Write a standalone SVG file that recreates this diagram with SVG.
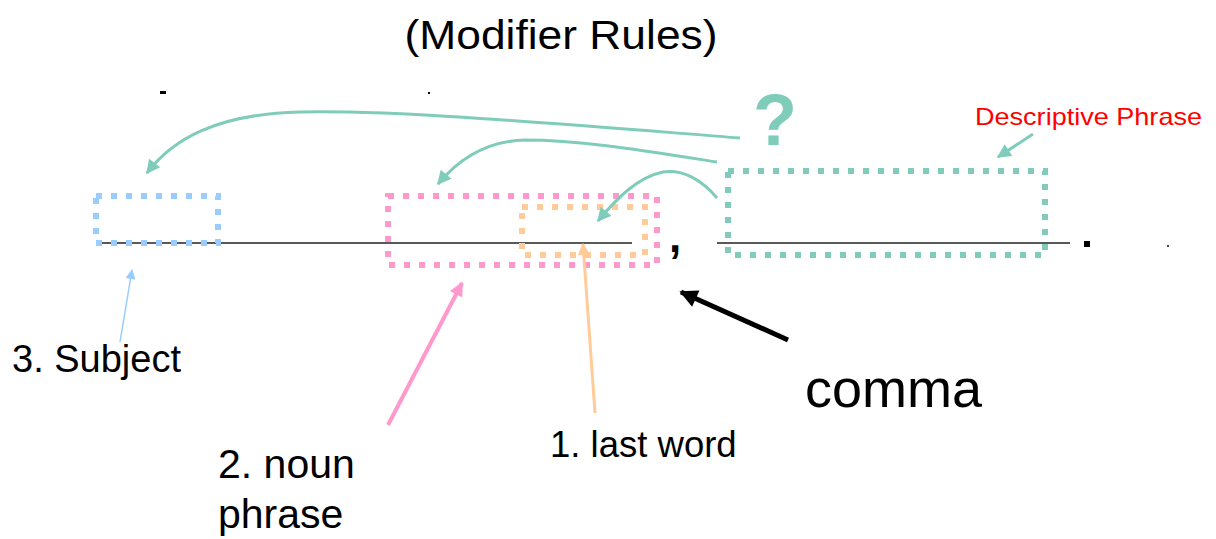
<svg xmlns="http://www.w3.org/2000/svg" width="1216" height="539" viewBox="0 0 1216 539">
<style>
text{font-family:"Liberation Sans",Arial,sans-serif;fill:#000}
.box{fill:none;stroke-width:6;stroke-dasharray:6 9}
.base{stroke:#222;stroke-width:1.6}
.teal{fill:none;stroke:#7FCCBB;stroke-width:3}
</style>
<defs>
<marker id="mTeal" viewBox="0 0 10 10" refX="9" refY="5" markerWidth="16" markerHeight="14" markerUnits="userSpaceOnUse" orient="auto"><path d="M0,0 L10,5 L0,10 z" fill="#7FCCBB"/></marker>
<marker id="mBlue" viewBox="0 0 10 10" refX="9" refY="5" markerWidth="12" markerHeight="10" markerUnits="userSpaceOnUse" orient="auto"><path d="M0,0 L10,5 L0,10 z" fill="#99CCFF"/></marker>
<marker id="mPink" viewBox="0 0 10 10" refX="9" refY="5" markerWidth="16" markerHeight="14" markerUnits="userSpaceOnUse" orient="auto"><path d="M0,0 L10,5 L0,10 z" fill="#FF99CC"/></marker>
<marker id="mOrange" viewBox="0 0 10 10" refX="9" refY="5" markerWidth="14" markerHeight="12" markerUnits="userSpaceOnUse" orient="auto"><path d="M0,0 L10,5 L0,10 z" fill="#FFCC99"/></marker>
<marker id="mBlack" viewBox="0 0 10 10" refX="9" refY="5" markerWidth="20" markerHeight="18" markerUnits="userSpaceOnUse" orient="auto"><path d="M0,0 L10,5 L0,10 z" fill="#000"/></marker>
</defs>
<rect width="1216" height="539" fill="#fff"/>
<text x="561" y="49" font-size="40" text-anchor="middle" textLength="313" lengthAdjust="spacingAndGlyphs">(Modifier Rules)</text>
<rect x="160" y="91" width="6" height="3" fill="#000"/>
<rect x="428" y="92" width="2" height="2" fill="#000"/>
<g id="baseline">
<line class="base" x1="100" y1="243" x2="632" y2="243"/>
<line class="base" x1="717" y1="243" x2="1070" y2="243"/>
<text x="669" y="252" font-size="44" font-weight="bold">,</text>
<rect x="1084" y="241" width="6" height="6" fill="#000"/>
<rect x="1167" y="245" width="2" height="2" fill="#444"/>
</g>
<g id="subject-box"><rect class="box" x="96" y="196" width="122" height="47" stroke="#99CCFF"/></g>
<g id="noun-phrase-box"><rect class="box" x="388" y="196" width="269" height="69" stroke="#FF99CC"/></g>
<g id="last-word-box"><rect class="box" x="522" y="207" width="123" height="48" stroke="#FFCC99"/></g>
<g id="descriptive-box"><rect class="box" x="728" y="171" width="317" height="84" stroke="#7FCCBB"/></g>
<g id="question"><text x="775" y="145" font-size="72" font-weight="bold" text-anchor="middle" style="fill:#7FCCBB">?</text></g>
<g id="descriptive-label"><text x="975" y="125" font-size="24" textLength="227" lengthAdjust="spacingAndGlyphs" style="fill:#FF0000">Descriptive Phrase</text></g>
<g id="labels">
<text x="12" y="372" font-size="38">3. Subject</text>
<text x="218" y="478" font-size="41">2. noun</text>
<text x="218" y="528" font-size="41">phrase</text>
<text x="550" y="457" font-size="36.5">1. last word</text>
<text x="805" y="407" font-size="54">comma</text>
</g>
<g id="connectors">
<path class="teal" d="M 740 138 C 560 124, 400 110, 300 112 C 215 114, 172 140, 147 173" marker-end="url(#mTeal)"/>
<path class="teal" d="M 717 162 C 640 150, 580 140, 525 140 C 485 141, 458 160, 438 184" marker-end="url(#mTeal)"/>
<path class="teal" d="M 717 198 C 702 180, 683 169, 663 172 C 638 177, 617 198, 598 221" marker-end="url(#mTeal)"/>
<line x1="1033" y1="134" x2="998" y2="157" stroke="#7FCCBB" stroke-width="3" marker-end="url(#mTeal)"/>
<line x1="120" y1="342" x2="132" y2="270" stroke="#99CCFF" stroke-width="1.5" marker-end="url(#mBlue)"/>
<line x1="388" y1="425" x2="462" y2="283" stroke="#FF99CC" stroke-width="4" marker-end="url(#mPink)"/>
<line x1="595" y1="413" x2="583" y2="244" stroke="#FFCC99" stroke-width="3" marker-end="url(#mOrange)"/>
<line x1="788" y1="340" x2="681" y2="292" stroke="#000" stroke-width="5" marker-end="url(#mBlack)"/>
</g>
</svg>
